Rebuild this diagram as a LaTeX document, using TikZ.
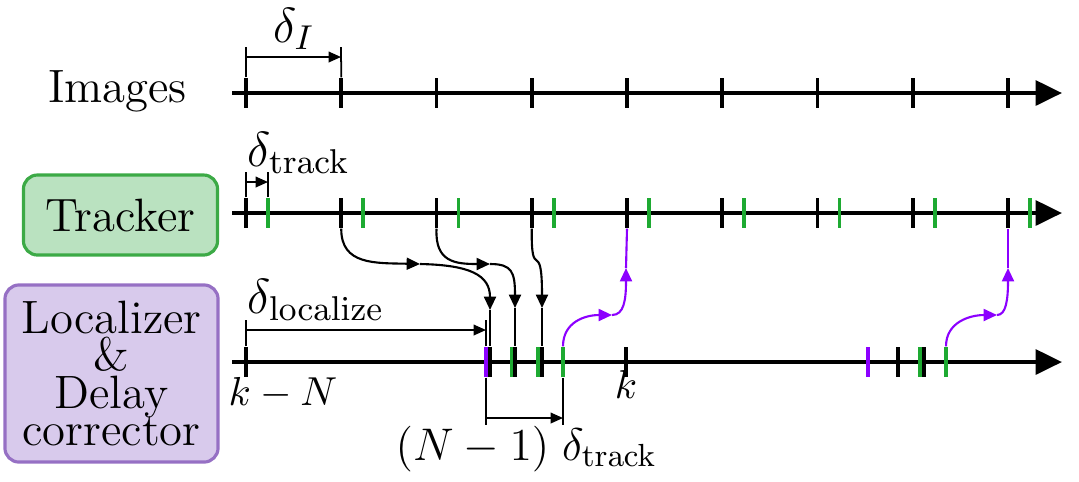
\RequirePackage{fix-cm}
\documentclass[tikz,border=0pt]{standalone}
\usepackage[no-math]{fontspec}
\usetikzlibrary{arrows.meta, positioning}
\definecolor{trackGreen}{RGB}{30, 170, 50}
\definecolor{trackFill}{RGB}{186, 226, 192}
\definecolor{trackDraw}{RGB}{60, 170, 70}
\definecolor{locViolet}{RGB}{140, 0, 255}
\definecolor{locFill}{RGB}{216, 202, 236}
\definecolor{locDraw}{RGB}{150, 112, 196}

\begin{document}
\begin{tikzpicture}[x=0.01cm, y=-0.01cm,
        modbox/.style={rectangle, rounded corners=4pt, line width=0.9pt, align=center, inner sep=0pt, font={\fontsize{13.3}{10.6}\selectfont\lineskiplimit=-20pt\relax}},
        timeline/.style={line width=1.2pt, -{Triangle[length=7.5pt, width=7pt]}},
        tickmark/.style={rectangle, fill=black, inner sep=0pt, minimum width=1.1pt, minimum height=0.3cm},
        dimline/.style={line width=0.5pt},
        dimarr/.style={line width=0.5pt, -{Triangle[length=3.5pt, width=3pt]}},
        flow/.style={line width=0.6pt, -{Triangle[length=3.8pt, width=3.4pt]}},
        dlabel/.style={inner sep=0pt, font=\fontsize{14}{16}\selectfont}
      ]
        \useasboundingbox (0,0) rectangle (1079,481);
        % row labels
        \node[inner sep=0pt, anchor=base, font=\fontsize{13.3}{16}\selectfont] (images) at (117.5,102) {Images};
        \node[modbox, fill=trackFill, draw=trackDraw, minimum width=1.94cm, minimum height=0.8cm] (tracker) at (120.5,215) {Tracker};
        \node[modbox, fill=locFill, draw=locDraw, minimum width=2.13cm, minimum height=1.77cm] (localizer) at (111.5,373.5) {Localizer\\\&\\Delay\\corrector};
        % time axes
        \coordinate (imgStart) at (232,93);
        \coordinate (imgEnd) at (1062,93);
        \coordinate (trkStart) at (232,213);
        \coordinate (trkEnd) at (1062,213);
        \coordinate (locStart) at (232,362);
        \coordinate (locEnd) at (1062,362);
        \draw[timeline] (imgStart) -- (imgEnd);
        \draw[timeline] (trkStart) -- (trkEnd);
        \draw[timeline] (locStart) -- (locEnd);
        \foreach \i in {0,...,8} {
          \node[tickmark] (img\i) at (246+95.25*\i,93) {};
          \node[tickmark, fill=trackGreen] (trg\i) at (268+95.25*\i,213) {};
          \node[tickmark] (trk\i) at (246+95.25*\i,213) {};
        }
        \foreach \x/\c/\n in {246/black/loc0, 626/black/locK,
            486/locViolet/lp1, 490/black/lb1, 512/trackGreen/lg1, 515/black/lb2,
            538/trackGreen/lg2, 542/black/lb3, 563/trackGreen/lg3,
            868/locViolet/lp2, 898/black/lb4, 920/trackGreen/lg4, 924/black/lb5, 946/trackGreen/lg5}
          \node[tickmark, fill=\c] (\n) at (\x,362) {};
        % delta_I
        \coordinate (dIa) at (246,47);
        \coordinate (dIb) at (341,47);
        \coordinate (dIl) at (246,57);
        \coordinate (dIr) at (341,57);
        \draw[dimline] (img0.north) -- (dIa);
        \draw[dimline] (img1.north) -- (dIb);
        \draw[dimarr] (dIl) -- (dIr);
        \node[dlabel, anchor=base] (dI) at (294,42) {$\delta_I$};
        % delta_track
        \coordinate (dTa) at (246,172);
        \coordinate (dTb) at (268,172);
        \coordinate (dTl) at (246,182);
        \coordinate (dTr) at (268,182);
        \draw[dimline] (trk0.north) -- (dTa);
        \draw[dimline] (trg0.north) -- (dTb);
        \draw[dimarr] (dTl) -- (dTr);
        \node[dlabel, anchor=base west] (dT) at (247,166) {$\delta_{\mathrm{track}}$};
        % delta_localize
        \coordinate (dLa) at (246,320);
        \coordinate (dLb) at (486,320);
        \coordinate (dLl) at (246,330);
        \coordinate (dLr) at (486,330);
        \draw[dimline] (loc0.north) -- (dLa);
        \draw[dimline] (lp1.north) -- (dLb);
        \draw[dimarr] (dLl) -- (dLr);
        \node[dlabel, anchor=base west] (dL) at (247,313) {$\delta_{\mathrm{localize}}$};
        % (N-1) delta_track
        \coordinate (dNa) at (486,425);
        \coordinate (dNb) at (563,425);
        \coordinate (dNl) at (486,418);
        \coordinate (dNr) at (563,418);
        \draw[dimline] (lp1.south) -- (dNa);
        \draw[dimline] (lg3.south) -- (dNb);
        \draw[dimarr] (dNl) -- (dNr);
        \node[inner sep=0pt, anchor=base west, font=\fontsize{13}{15}\selectfont] (dN) at (395,460) {$(N-1)\;\delta_{\mathrm{track}}$};
        % time labels
        \node[inner sep=0pt, anchor=base west, font=\fontsize{11.5}{14}\selectfont] (kN) at (228,405) {$k-N$};
        \node[inner sep=0pt, anchor=base, font=\fontsize{11.5}{14}\selectfont] (k) at (626,398) {$k$};
        % tracker to localizer
        \coordinate (m1) at (420,264);
        \coordinate (n1) at (490,310);
        \coordinate (m2) at (490,264);
        \coordinate (n2) at (515,308);
        \coordinate (n3) at (542,308);
        \draw[flow] (trk1.south) .. controls (341,265) and (375,263) .. (m1);
        \draw[flow] (m1) .. controls (470,265) and (490,275) .. (n1);
        \draw[dimline] (n1) -- (lb1.north);
        \draw[flow] (trk2.south) .. controls (435,262) and (455,264) .. (m2);
        \draw[flow] (m2) .. controls (512,264) and (515,272) .. (n2);
        \draw[dimline] (n2) -- (lb2.north);
        \draw[flow] (trk3.south) .. controls (531,285) and (542,235) .. (n3);
        \draw[dimline] (n3) -- (lb3.north);
        % localizer to tracker
        \coordinate (p1) at (612,315);
        \coordinate (q1) at (626,268);
        \coordinate (p2) at (997,315);
        \coordinate (q2) at (1008,268);
        \draw[flow, locViolet] (lg3.north) .. controls (563,322) and (585,315) .. (p1);
        \draw[flow, locViolet] (p1) .. controls (624,315) and (626,300) .. (q1);
        \draw[line width=0.6pt, locViolet] (q1) -- (trk4.south);
        \draw[flow, locViolet] (lg5.north) .. controls (946,322) and (970,315) .. (p2);
        \draw[flow, locViolet] (p2) .. controls (1006,315) and (1008,300) .. (q2);
        \draw[line width=0.6pt, locViolet] (q2) -- (trk8.south);
      \end{tikzpicture}
\end{document}
